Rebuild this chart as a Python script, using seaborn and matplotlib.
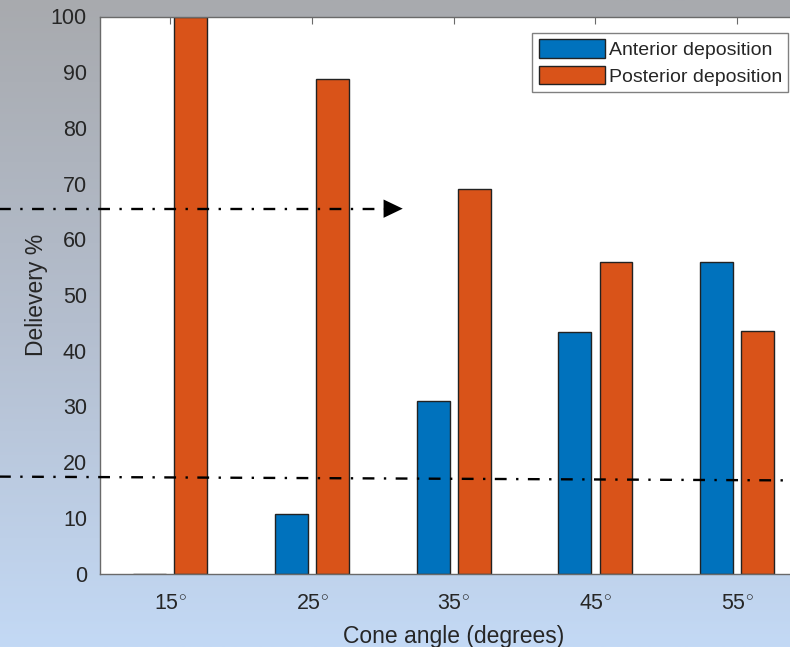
import numpy as np
import pandas as pd
import matplotlib
matplotlib.use("Agg")
import matplotlib.pyplot as plt
import seaborn as sns

# Delivery fractions per cone angle
cone_angles = ["15$^{\\circ}$", "25$^{\\circ}$", "35$^{\\circ}$", "45$^{\\circ}$", "55$^{\\circ}$"]
anterior = [0.0, 10.6, 31.0, 43.4, 56.0]
posterior = [100.0, 88.8, 69.0, 56.0, 43.6]
series_names = ["Anterior deposition", "Posterior deposition"]
y_ticks = [0, 10, 20, 30, 40, 50, 60, 70, 80, 90, 100]

# Reference guide lines (data units)
lower_guide_y = [17.4, 16.7]
upper_guide_y = 65.5

df = pd.DataFrame({
    "angle": cone_angles * 2,
    "value": anterior + posterior,
    "series": [series_names[0]] * len(cone_angles) + [series_names[1]] * len(cone_angles),
})

sns.set_theme(style="white")
plt.rcParams["font.family"] = ["Liberation Sans", "DejaVu Sans"]
plt.rcParams["mathtext.fontset"] = "custom"
plt.rcParams["mathtext.rm"] = "Liberation Sans"

W, H = 790, 647
fig = plt.figure(figsize=(W / 100, H / 100), dpi=100)

# Gradient backdrop: grey at the top fading into light blue
bg = fig.add_axes([0, 0, 1, 1], zorder=-10)
top = np.array([168, 170, 174]) / 255
mid = np.array([180, 190, 206]) / 255
bot = np.array([195, 217, 245]) / 255
t = np.linspace(0, 1, 256)[:, None]
grad = np.where(t < 0.5, top + (mid - top) * (t / 0.5), mid + (bot - mid) * ((t - 0.5) / 0.5))
bg.imshow(grad[:, None, :], aspect="auto", extent=[0, 1, 0, 1])
bg.set_axis_off()

ax_left = 99.5 / W
ax_right = 808.0 / W
ax_bottom = (H - 573.5) / H
ax_top = (H - 16.5) / H
ax = fig.add_axes([ax_left, ax_bottom, ax_right - ax_left, ax_top - ax_bottom])
ax.set_facecolor("white")

palette = {series_names[0]: "#0072BD", series_names[1]: "#D95319"}
sns.barplot(data=df, x="angle", y="value", hue="series", palette=palette,
            width=0.58, gap=0.2, edgecolor="#222222", linewidth=1.0,
            saturation=1, ax=ax, zorder=2)

ax.set_xlim(-0.5, 4.5)
ax.set_ylim(0, 100)
ax.set_yticks(y_ticks)
ax.set_yticklabels([str(v) for v in y_ticks])

text_col = "#262626"
axis_col = "#6a6a6a"
ax.tick_params(axis="both", direction="in", length=5, width=0.8, color=axis_col,
               labelsize=15.5, labelcolor=text_col, top=True, right=True, pad=9)
ax.tick_params(axis="x", pad=15)
for s in ax.spines.values():
    s.set_color(axis_col)
    s.set_linewidth(1.0)

ax.set_xlabel("Cone angle (degrees)", fontsize=16.5, color=text_col, labelpad=7)
ax.set_ylabel("Delievery %", fontsize=16.5, color=text_col, labelpad=2)

leg = ax.legend(loc="upper right", bbox_to_anchor=((788 - 99.5) / (808 - 99.5), 1 - (33 - 16.5) / 557),
                fontsize=14, frameon=True, fancybox=False, framealpha=1,
                edgecolor="#808080", handlelength=3.4, handleheight=1.12,
                handletextpad=0.2, borderpad=0.32, labelspacing=0.32,
                borderaxespad=0)
leg.get_frame().set_linewidth(1.0)
for txt in leg.get_texts():
    txt.set_color(text_col)

# Dash-dot guides extending past the axes
dash = (0, (5, 4.0, 1, 4.0))
ax.plot([-1.25, 4.5], lower_guide_y, color="black", lw=1.7, linestyle=dash,
        clip_on=False, zorder=5)
ax.plot([-1.25, 1.53], [upper_guide_y, upper_guide_y], color="black", lw=1.7,
        linestyle=dash, clip_on=False, zorder=5)
ax.annotate("", xy=(1.64, upper_guide_y), xytext=(1.52, upper_guide_y),
            arrowprops=dict(arrowstyle="-|>,head_length=1.15,head_width=0.55",
                            color="black", lw=0, shrinkA=0, shrinkB=0),
            annotation_clip=False, zorder=5)

fig.savefig("out.png", dpi=100)
